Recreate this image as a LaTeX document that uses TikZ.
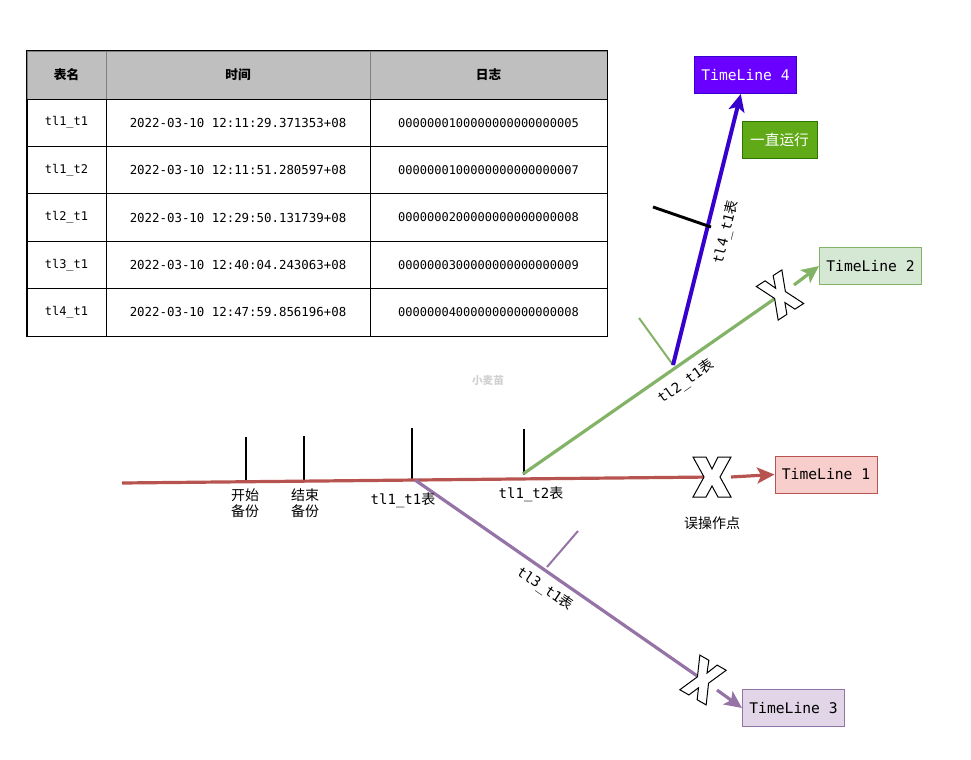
\documentclass[tikz,border=0pt]{standalone}
\usepackage{fontspec}
\setmonofont{DejaVu Sans Mono}
\newfontfamily\cjk{Noto Sans CJK SC}
\usetikzlibrary{arrows.meta}
\definecolor{tl_red}{RGB}{184, 84, 80}
\definecolor{tl_redfill}{RGB}{248, 206, 204}
\definecolor{tl_green}{RGB}{130, 179, 102}
\definecolor{tl_greenfill}{RGB}{213, 232, 212}
\definecolor{tl_purple}{RGB}{150, 115, 166}
\definecolor{tl_purplefill}{RGB}{225, 213, 231}
\definecolor{tl_blue}{RGB}{55, 0, 204}
\definecolor{tl_violet}{RGB}{106, 0, 255}
\definecolor{run_green}{RGB}{96, 169, 23}
\definecolor{run_dark}{RGB}{45, 118, 0}
\definecolor{head_gray}{RGB}{191, 191, 191}
\tikzstyle{cell}=[draw=black,line width=0.75pt,inner sep=0pt,
  minimum height=35.55pt,font=\ttfamily\fontsize{9}{11}\selectfont]
\tikzstyle{hcell}=[cell,fill=head_gray,draw=black!50,minimum height=36pt,
  font=\cjk\bfseries\fontsize{9.5}{11}\selectfont]
\tikzstyle{w1}=[minimum width=59.25pt]
\tikzstyle{w2}=[minimum width=198pt,font=\ttfamily\fontsize{9.3}{11}\selectfont]
\tikzstyle{w3}=[minimum width=177.75pt]
\tikzstyle{tl}=[draw,line width=0.75pt,inner sep=0pt,minimum width=76.5pt,
  minimum height=27.75pt,font=\ttfamily\fontsize{11}{13}\selectfont]
\tikzstyle{lbl}=[inner sep=0pt,font=\ttfamily\fontsize{10.5}{12}\selectfont]
\tikzstyle{cn}=[inner sep=0pt,align=center,font=\cjk\fontsize{10.5}{12}\selectfont]
\tikzstyle{bar}=[line width=1.9pt]
\tikzstyle{branch}=[line width=2.4pt]
\tikzstyle{arrowline}=[-{Stealth[length=13pt,width=12pt,inset=3pt]},line width=2.4pt]
% outlined X mark: centre, rotation, xscale
\newcommand{\errx}[3]{%
  \begin{scope}[shift={#1},rotate=#2,xscale=#3]
    \draw [fill=white,line width=0.75pt] (-19,-20) -- (-6,-20) -- (0,-8)
      -- (6,-20) -- (19,-20) -- (8,0) -- (19,20) -- (6,20) -- (0,9)
      -- (-6,20) -- (-19,20) -- (-8,0) -- cycle;
  \end{scope}}

\begin{document}
\begin{tikzpicture}[x=0.75pt,y=-0.75pt]
    \useasboundingbox (0,0) rectangle (971,760);
    % table
    \node [style=hcell,style=w1] (0) at (66.5, 75) {表名};
    \node [style=hcell,style=w2,font=\cjk\bfseries\fontsize{9.5}{11}\selectfont] (1) at (238, 75) {时间};
    \node [style=hcell,style=w3] (2) at (488.5, 75) {日志};
    \node [style=cell,style=w1] (3) at (66.5, 122.7) {tl1\_t1};
    \node [style=cell,style=w2] (4) at (238, 122.7) {2022-03-10 12:11:29.371353+08};
    \node [style=cell,style=w3] (5) at (488.5, 122.7) {0000000100000000000000005};
    \node [style=cell,style=w1] (6) at (66.5, 170.1) {tl1\_t2};
    \node [style=cell,style=w2] (7) at (238, 170.1) {2022-03-10 12:11:51.280597+08};
    \node [style=cell,style=w3] (8) at (488.5, 170.1) {0000000100000000000000007};
    \node [style=cell,style=w1] (9) at (66.5, 217.5) {tl2\_t1};
    \node [style=cell,style=w2] (10) at (238, 217.5) {2022-03-10 12:29:50.131739+08};
    \node [style=cell,style=w3] (11) at (488.5, 217.5) {0000000200000000000000008};
    \node [style=cell,style=w1] (12) at (66.5, 264.9) {tl3\_t1};
    \node [style=cell,style=w2] (13) at (238, 264.9) {2022-03-10 12:40:04.243063+08};
    \node [style=cell,style=w3] (14) at (488.5, 264.9) {0000000300000000000000009};
    \node [style=cell,style=w1] (15) at (66.5, 312.3) {tl4\_t1};
    \node [style=cell,style=w2] (16) at (238, 312.3) {2022-03-10 12:47:59.856196+08};
    \node [style=cell,style=w3] (17) at (488.5, 312.3) {0000000400000000000000008};
    \draw [line width=0.75pt] (0.north west) rectangle (17.south east);

    % points and boxes
    \coordinate (20) at (122, 483);
    \coordinate (21) at (712, 477);
    \coordinate (22) at (731, 477);
    \node [style=tl,fill=tl_redfill,draw=tl_red] (23) at (826, 474.5) {TimeLine 1};
    \coordinate (24) at (523, 474);
    \coordinate (25) at (780, 295);
    \coordinate (26) at (794, 285);
    \node [style=tl,fill=tl_greenfill,draw=tl_green] (27) at (870.5, 266) {TimeLine 2};
    \coordinate (28) at (673, 365);
    \node [style=tl,fill=tl_violet,draw=tl_blue,text=white] (29) at (745.5, 75) {TimeLine 4};
    \node [style=tl,minimum width=56.25pt,fill=run_green,draw=run_dark,text=white,
      font=\cjk\fontsize{11}{13}\selectfont] (30) at (779.5, 140) {一直运行};
    \coordinate (31) at (415, 480);
    \coordinate (32) at (703, 680);
    \coordinate (33) at (717, 690);
    \node [style=tl,fill=tl_purplefill,draw=tl_purple] (34) at (793.5, 708) {TimeLine 3};

    % ticks
    \coordinate (35) at (246, 437);
    \coordinate (36) at (246, 481);
    \coordinate (37) at (304, 436);
    \coordinate (38) at (304, 480);
    \coordinate (39) at (412, 428);
    \coordinate (40) at (412, 479);
    \coordinate (41) at (524, 429);
    \coordinate (42) at (524, 475);
    \coordinate (43) at (639, 318);
    \coordinate (45) at (578, 531);
    \coordinate (46) at (547, 567);
    \coordinate (47) at (653, 207);
    \coordinate (48) at (711, 227);
    \draw [style=bar] (35) to (36);
    \draw [style=bar] (37) to (38);
    \draw [style=bar] (39) to (40);
    \draw [style=bar] (41) to (42);
    \draw [line width=1.5pt,tl_green] (43) to (28);
    \draw [line width=1.5pt,tl_purple] (45) to (46);

    % timelines
    \draw [style=branch,tl_red] (20) to (21);
    \draw [style=branch,tl_green] (24) to (25);
    \draw [style=branch,tl_purple] (31) to (32);
    \draw [style=arrowline,line width=3pt,tl_blue] (28) to (29);
    \draw [line width=2.2pt] (47) to (48);
    \draw [style=arrowline,tl_red] (22) to (23.west);
    \draw [style=arrowline,tl_green] (26) to (27.west);
    \draw [style=arrowline,tl_purple] (33) to (34.west);
    \errx{(712, 477)}{0}{1}
    \errx{(780, 295)}{33}{0.8}
    \errx{(703, 680)}{-30}{0.8}

    % labels
    \node [style=cn] (50) at (245, 503) {开始\\备份};
    \node [style=cn] (51) at (305, 503) {结束\\备份};
    \node [style=lbl] (52) at (403, 500) {tl1\_t1{\cjk 表}};
    \node [style=lbl] (53) at (531, 494) {tl1\_t2{\cjk 表}};
    \node [style=cn] (54) at (712, 523) {误操作点};
    \node [style=lbl,rotate=35] (55) at (686, 382) {tl2\_t1{\cjk 表}};
    \node [style=lbl,rotate=-34] (56) at (545, 589) {tl3\_t1{\cjk 表}};
    \node [style=lbl,rotate=76] (57) at (726, 232) {tl4\_t1{\cjk 表}};
    \node [inner sep=0pt,text=black!18,font=\cjk\bfseries\fontsize{8}{9}\selectfont] (58) at (488, 380) {小麦苗};
  \end{tikzpicture}
\end{document}
